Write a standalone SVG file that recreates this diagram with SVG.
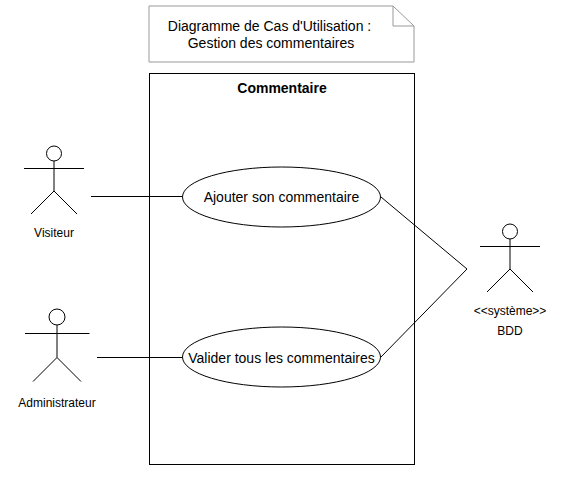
<svg xmlns="http://www.w3.org/2000/svg" width="576" height="478" viewBox="0 0 576 478">
<style>
text{font-family:"Liberation Sans",Arial,sans-serif;fill:#000;text-anchor:middle}
.s{fill:none;stroke:#000;stroke-width:1}
.w{fill:#fff;stroke:#000;stroke-width:1}
.t14{font-size:14px}
.t12{font-size:12px}
</style>
<rect width="576" height="478" fill="#fff"/>
<g id="note">
<path d="M149 6H393L414 26V62H149Z" fill="#fff" stroke="#999" stroke-width="1"/>
<path d="M393 6V26H414" fill="none" stroke="#999" stroke-width="1"/>
<text class="t14" x="269.500" y="31">Diagramme de Cas d'Utilisation :</text>
<text class="t14" x="271" y="48">Gestion des commentaires</text>
</g>
<g id="boundary">
<rect x="149.500" y="73.500" width="265" height="391" fill="none" stroke="#000"/>
<text x="282" y="93" font-size="14" font-weight="bold">Commentaire</text>
</g>
<g id="connectors">
<path class="s" d="M91 196.500H182"/>
<path class="s" d="M97 357.500H182"/>
<path class="s" d="M381 197L467 269L381 357"/>
</g>
<g id="uc1">
<ellipse class="w" cx="281.500" cy="197" rx="99" ry="30"/>
<text class="t14" x="281.500" y="202">Ajouter son commentaire</text>
</g>
<g id="uc2">
<ellipse class="w" cx="281.500" cy="357" rx="99" ry="30"/>
<text class="t14" x="281.500" y="363">Valider tous les commentaires</text>
</g>
<g id="visiteur">
<circle class="s" cx="54" cy="153.500" r="7.500"/>
<path class="s" d="M54 161V191M24 168.500H84M31 214L54 191L77 214"/>
<text class="t12" x="54" y="237">Visiteur</text>
</g>
<g id="administrateur">
<circle class="s" cx="57" cy="317" r="8"/>
<path class="s" d="M57 325V357.500M25 333.500H89.500M33 381.500L57 357.500L81 381.500"/>
<text class="t12" x="57" y="407">Administrateur</text>
</g>
<g id="bdd">
<circle class="s" cx="510" cy="231.500" r="7.500"/>
<path class="s" d="M510 239V269M480 246.500H540M487 292L510 269L533 292"/>
<text class="t12" x="510" y="315">&lt;&lt;système&gt;&gt;</text>
<text class="t12" x="510" y="335">BDD</text>
</g>
</svg>
